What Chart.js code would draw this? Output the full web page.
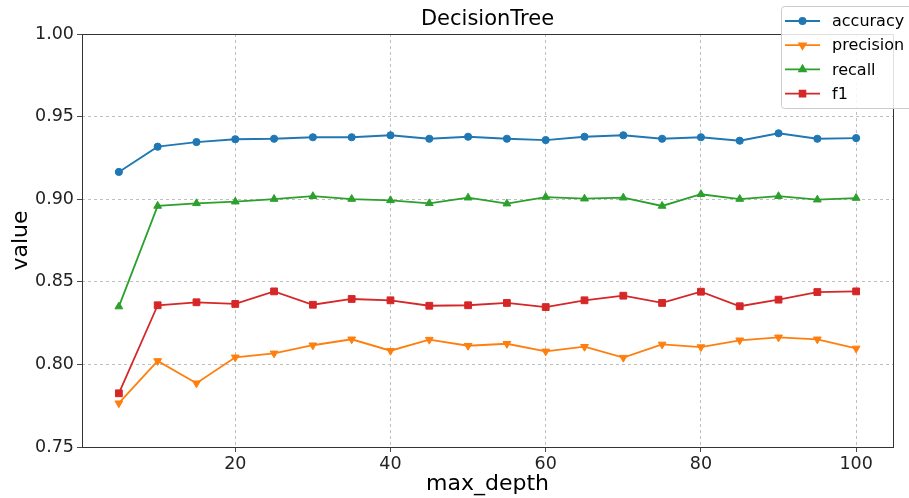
<!DOCTYPE html>
<html>
<head>
<meta charset="utf-8">
<script src="https://cdn.jsdelivr.net/npm/chart.js@4/dist/chart.umd.min.js"></script>
<style>
  html, body { margin: 0; padding: 0; background: #fff; }
  #wrap { width: 909px; height: 498px; }
</style>
</head>
<body>
<div id="wrap"><canvas id="myChart" width="909" height="498"></canvas></div>
<script>
const depths = [5, 10, 15, 20, 25, 30, 35, 40, 45, 50, 55, 60, 65, 70, 75, 80, 85, 90, 95, 100];
const accuracy = [0.9165, 0.9318, 0.9346, 0.9363, 0.9366, 0.9375, 0.9375, 0.9387, 0.9366, 0.9378,
                  0.9366, 0.9358, 0.9378, 0.9387, 0.9366, 0.9375, 0.9354, 0.9399, 0.9366, 0.9370];
const precision = [0.7765, 0.8021, 0.7886, 0.8043, 0.8067, 0.8116, 0.8152, 0.8083, 0.8150, 0.8113,
                   0.8125, 0.8079, 0.8107, 0.8041, 0.8121, 0.8105, 0.8146, 0.8164, 0.8152, 0.8097];
const recall = [0.8350, 0.8959, 0.8975, 0.8985, 0.9001, 0.9018, 0.9001, 0.8993, 0.8975, 0.9009,
                0.8973, 0.9013, 0.9003, 0.9009, 0.8959, 0.9030, 0.9001, 0.9018, 0.8997, 0.9007];
const f1 = [0.7825, 0.8358, 0.8376, 0.8366, 0.8442, 0.8361, 0.8396, 0.8388, 0.8355, 0.8358,
            0.8372, 0.8347, 0.8388, 0.8416, 0.8372, 0.8440, 0.8352, 0.8392, 0.8438, 0.8442];
const xTicks = [20, 40, 60, 80, 100];
const yTicks = [0.75, 0.80, 0.85, 0.90, 0.95, 1.00];

const font = "'DejaVu Sans', sans-serif";

function series(label, values, color, style, rotation, radius) {
    return {
        label: label,
        data: depths.map((d, i) => ({ x: d, y: values[i] })),
        borderColor: color,
        backgroundColor: color,
        borderWidth: 1.8,
        pointStyle: style,
        rotation: rotation,
        pointRadius: radius,
        pointBorderWidth: 1,
        pointBorderColor: color,
        tension: 0
    };
}

// title, full frame and legend box like the matplotlib original
const decor = {
    id: 'decor',
    afterDraw(chart) {
        const ctx = chart.ctx;
        const a = chart.chartArea;
        ctx.save();
        ctx.strokeStyle = '#333';
        ctx.lineWidth = 1;
        ctx.strokeRect(a.left + 0.5, a.top + 0.5, a.right - a.left, a.bottom - a.top);

        ctx.fillStyle = '#000';
        ctx.font = '21px ' + font;
        ctx.textAlign = 'center';
        ctx.textBaseline = 'middle';
        ctx.fillText('DecisionTree', (a.left + a.right) / 2, 20);

        // legend
        const bx = 781, by = 6, bw = 140, bh = 102;
        ctx.fillStyle = 'rgba(255,255,255,0.85)';
        ctx.strokeStyle = '#cccccc';
        ctx.beginPath();
        ctx.roundRect(bx + 0.5, by + 0.5, bw, bh, 3);
        ctx.fill();
        ctx.stroke();
        ctx.font = '16px ' + font;
        ctx.textAlign = 'left';
        chart.data.datasets.forEach((ds, i) => {
            const y = 21 + i * 24.2;
            ctx.strokeStyle = ds.borderColor;
            ctx.lineWidth = 1.8;
            ctx.beginPath();
            ctx.moveTo(785, y);
            ctx.lineTo(820, y);
            ctx.stroke();
            ctx.fillStyle = ds.backgroundColor;
            Chart.helpers.drawPoint(ctx, {
                pointStyle: ds.pointStyle, rotation: ds.rotation,
                radius: ds.pointRadius * 0.85, borderWidth: 1
            }, 802.5, y);
            ctx.fillStyle = '#000';
            ctx.fillText(ds.label, 832, y + 1);
        });
        ctx.restore();
    }
};

const gridOpts = {
    color: '#b8b8b8',
    lineWidth: 0.9,
    tickColor: '#333',
    tickLength: 5
};

const ctx = document.getElementById('myChart').getContext('2d');
const myChart = new Chart(ctx, {
    type: 'line',
    data: {
        datasets: [
            series('accuracy', accuracy, '#1f77b4', 'circle', 0, 3.6),
            series('precision', precision, '#ff7f0e', 'triangle', 180, 4.5),
            series('recall', recall, '#2ca02c', 'triangle', 0, 4.5),
            series('f1', f1, '#d62728', 'rect', 0, 4.8)
        ]
    },
    options: {
        responsive: false,
        animation: false,
        layout: { padding: { top: 34, right: 16, left: 0, bottom: 0 } },
        plugins: {
            legend: { display: false },
            tooltip: { enabled: false }
        },
        scales: {
            x: {
                type: 'linear',
                min: 0.25,
                max: 104.75,
                afterBuildTicks: s => { s.ticks = xTicks.map(v => ({ value: v })); },
                afterFit: s => { s.height = 51; },
                ticks: {
                    color: '#222',
                    font: { family: font, size: 17.5 },
                    padding: 2,
                    maxRotation: 0,
                    callback: v => String(v)
                },
                grid: gridOpts,
                border: { display: false, dash: [3, 3] },
                title: {
                    display: true,
                    text: 'max_depth',
                    color: '#000',
                    font: { family: font, size: 22 },
                    padding: { top: 0, bottom: 1 }
                }
            },
            y: {
                min: 0.75,
                max: 1.0,
                afterBuildTicks: s => { s.ticks = yTicks.map(v => ({ value: v })); },
                afterFit: s => { s.width = 82; },
                ticks: {
                    color: '#222',
                    font: { family: font, size: 17.5 },
                    padding: 3,
                    callback: v => Number(v).toFixed(2)
                },
                grid: gridOpts,
                border: { display: false, dash: [3, 3] },
                title: {
                    display: true,
                    text: 'value',
                    color: '#000',
                    font: { family: font, size: 22 },
                    padding: { top: 8, bottom: 0 }
                }
            }
        }
    },
    plugins: [decor]
});
</script>
</body>
</html>
